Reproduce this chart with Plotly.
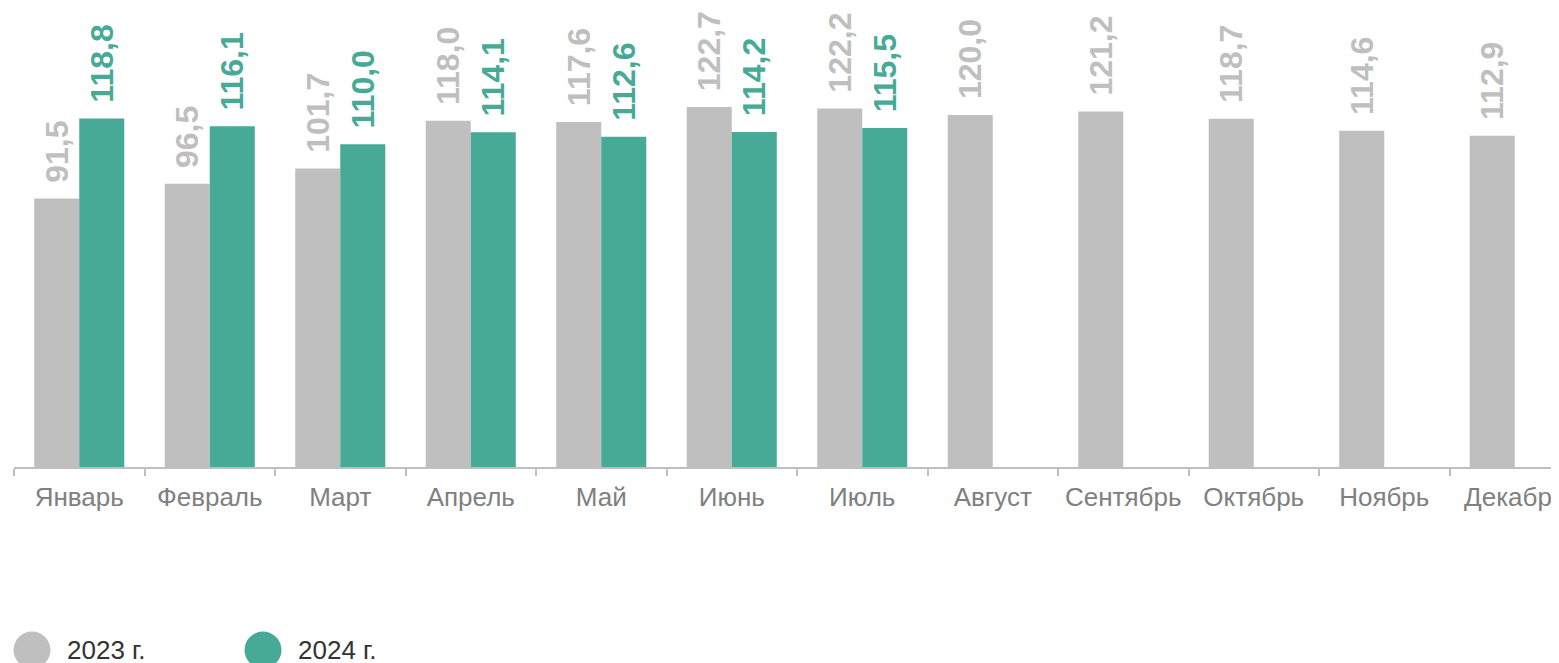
import plotly.graph_objects as go

months = ["Январь", "Февраль", "Март", "Апрель", "Май", "Июнь", "Июль",
          "Август", "Сентябрь", "Октябрь", "Ноябрь", "Декабрь"]
vals_2023 = [91.5, 96.5, 101.7, 118.0, 117.6, 122.7, 122.2, 120.0, 121.2, 118.7, 114.6, 112.9]
vals_2024 = [118.8, 116.1, 110.0, 114.1, 112.6, 114.2, 115.5]
series_names = ["2023 г.", "2024 г."]

GREY = "#BFBFBF"
TEAL = "#46AA97"
FONT = "Liberation Sans, Arial, sans-serif"

# page body adds an 8px margin around the figure
W, H = 1551, 655
ML, MT, MB = 6, 0, 196
plot_w = W - ML
plot_h = H - MT - MB
cat_px = 130.5
px_per_unit = 2.934

fig = go.Figure()
fig.add_trace(go.Bar(
    x=months, y=vals_2023, name=series_names[0],
    marker=dict(color=GREY, line=dict(width=0)),
    texttemplate="\u2009\u2009<b>%{y:.1f}</b>", textposition="outside", textangle=-90,
    textfont=dict(family=FONT, size=32, color=GREY),
    cliponaxis=False, constraintext="none", showlegend=False,
))
fig.add_trace(go.Bar(
    x=months[:len(vals_2024)], y=vals_2024, name=series_names[1],
    marker=dict(color=TEAL, line=dict(width=0)),
    texttemplate="\u2009\u2009<b>%{y:.1f}</b>", textposition="outside", textangle=-90,
    textfont=dict(family=FONT, size=32, color=TEAL),
    cliponaxis=False, constraintext="none", showlegend=False,
))

# custom legend (large circles)
def px_to_paper_x(px):
    return (px - ML) / plot_w

def py_to_paper_y(py):
    return (MT + plot_h - py) / plot_h

shapes = []
annotations = []
LEG_Y = 642
legend_items = [(24, 57, GREY, series_names[0]), (255, 288, TEAL, series_names[1])]
for cx, tx, col, name in legend_items:
    shapes.append(dict(
        type="circle", xref="paper", yref="paper",
        xsizemode="pixel", ysizemode="pixel",
        xanchor=px_to_paper_x(cx), yanchor=py_to_paper_y(LEG_Y),
        x0=-18.5, x1=18.5, y0=-18.5, y1=18.5,
        fillcolor=col, line=dict(width=0), layer="above",
    ))
    annotations.append(dict(
        x=px_to_paper_x(tx), y=py_to_paper_y(LEG_Y), xref="paper", yref="paper",
        xanchor="left", yanchor="middle", showarrow=False, text=name,
        font=dict(family=FONT, size=26, color="#333333"),
    ))

fig.update_layout(
    width=W, height=H, autosize=False,
    margin=dict(l=ML, r=0, t=MT, b=MB, pad=0, autoexpand=False),
    paper_bgcolor="white", plot_bgcolor="white",
    barmode="group", bargap=0.31, bargroupgap=0,
    separators=", ",
    font=dict(family=FONT),
    showlegend=False,
    shapes=shapes, annotations=annotations,
    xaxis=dict(
        type="category", range=[-0.5, -0.5 + plot_w / cat_px],
        tickson="boundaries", ticks="outside", ticklen=7, tickwidth=2, tickcolor=GREY,
        showline=True, linecolor=GREY, linewidth=2, showgrid=False, zeroline=False,
        tickfont=dict(family=FONT, size=26, color="#808080"),
        tickangle=0, automargin=False,
        ticklabelstandoff=6,
    ),
    yaxis=dict(
        range=[0, plot_h / px_per_unit], visible=False, showgrid=False, zeroline=False,
        automargin=False,
    ),
)

fig.write_html("out.html")
